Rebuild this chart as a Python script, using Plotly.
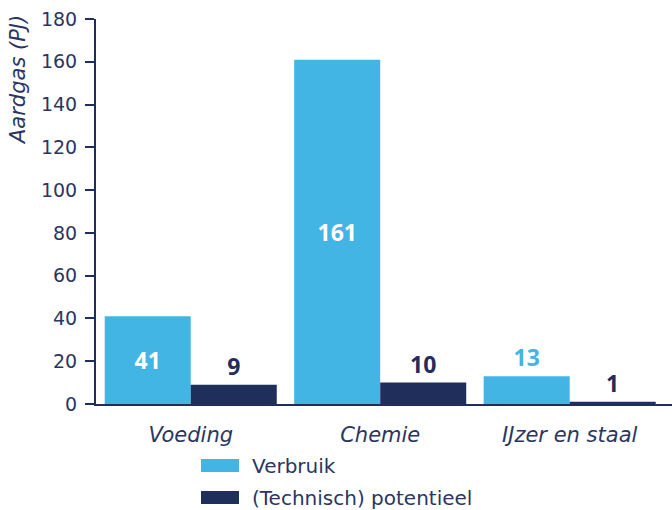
import plotly.graph_objects as go

categories = ["Voeding", "Chemie", "IJzer en staal"]
verbruik = [41, 161, 13]
potentieel = [9, 10, 1]
series_names = ["Verbruik", "(Technisch) potentieel"]
y_title = "Aardgas (PJ)"
y_ticks = [0, 20, 40, 60, 80, 100, 120, 140, 160, 180]

LIGHT = "#43B5E4"
NAVY = "#1F2E5A"
TEXT = "#2A3661"
FONT = "DejaVu Sans"
LABEL_FONT = "Open Sans"

fig = go.Figure()
fig.add_trace(go.Bar(
    x=categories, y=verbruik, name=series_names[0],
    marker=dict(color=LIGHT, line=dict(width=0)),
    text=[str(v) for v in verbruik],
    textposition=["inside", "inside", "outside"],
    insidetextanchor="middle",
    textangle=0,
    textfont=dict(family=LABEL_FONT, size=23, color=["white", "white", LIGHT], weight="bold"),
    cliponaxis=False,
))
fig.add_trace(go.Bar(
    x=categories, y=potentieel, name=series_names[1],
    marker=dict(color=NAVY, line=dict(width=0)),
    text=[str(v) for v in potentieel],
    textposition="outside",
    textangle=0,
    textfont=dict(family=LABEL_FONT, size=23, color=NAVY, weight="bold"),
    cliponaxis=False,
))

W, H = 672, 510
L, R, T, B = 96, 0, 19, 106
pw, ph = W - L - R, H - T - B

def px(sx):
    return (sx - L) / pw

def py(sy):
    return (H - B - sy) / ph

shapes = []
annotations = []
for i, (name, col) in enumerate(zip(series_names, [LIGHT, NAVY])):
    top = 459 + i * 32
    shapes.append(dict(type="rect", xref="paper", yref="paper",
                       x0=px(201), x1=px(239), y0=py(top + 13), y1=py(top),
                       fillcolor=col, line=dict(width=0)))
    annotations.append(dict(text=name, xref="paper", yref="paper",
                            x=px(250), y=py(top + 7), xanchor="left", yanchor="middle",
                            showarrow=False, font=dict(family=FONT, size=20, color=TEXT)))

annotations.append(dict(text=y_title, xref="paper", yref="paper", textangle=-90,
                        x=px(18), y=py(13), xanchor="center", yanchor="top",
                        showarrow=False,
                        font=dict(family=FONT, size=21, color=TEXT, style="italic")))

fig.update_layout(
    width=W, height=H,
    margin=dict(l=L, r=R, t=T, b=B),
    paper_bgcolor="white", plot_bgcolor="white",
    barmode="group", bargap=0.092, bargroupgap=0,
    showlegend=False,
    font=dict(family=FONT, color=TEXT),
    shapes=shapes, annotations=annotations,
    xaxis=dict(range=[-0.5, 2.54], showline=True, linecolor=NAVY, linewidth=2,
               ticks="", showgrid=False, zeroline=False, ticklabelstandoff=11,
               tickfont=dict(family=FONT, size=21, color=TEXT, style="italic")),
    yaxis=dict(range=[0, 180], tickvals=y_ticks, showline=True, linecolor=NAVY, linewidth=2,
               ticks="outside", ticklen=9, tickwidth=2, tickcolor=NAVY,
               showgrid=False, zeroline=False, ticklabelstandoff=4,
               ticklabeloverflow="allow",
               tickfont=dict(family=FONT, size=19, color=TEXT)),
)

fig.write_html("out.html",
               config={"displayModeBar": False, "staticPlot": True},
               post_script="document.body.style.margin='0';document.body.style.padding='0';")
